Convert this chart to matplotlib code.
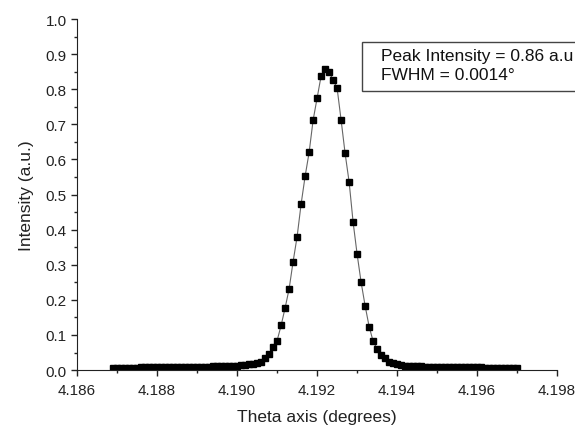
import matplotlib
matplotlib.use("Agg")
import matplotlib.pyplot as plt
from matplotlib.patches import Rectangle
from matplotlib.ticker import MultipleLocator, FormatStrFormatter

plt.rcParams['font.family'] = ['Liberation Sans', 'DejaVu Sans']

# Theta (degrees) and normalised intensity
theta = [4.1869, 4.1870, 4.1871, 4.1872, 4.1873, 4.1874, 4.1875, 4.1876, 4.1877, 4.1878,
         4.1879, 4.1880, 4.1881, 4.1882, 4.1883, 4.1884, 4.1885, 4.1886, 4.1887, 4.1888,
         4.1889, 4.1890, 4.1891, 4.1892, 4.1893, 4.1894, 4.1895, 4.1896, 4.1897, 4.1898,
         4.1899, 4.1900, 4.1901, 4.1902, 4.1903, 4.1904, 4.1905, 4.1906, 4.1907, 4.1908,
         4.1909, 4.1910, 4.1911, 4.1912, 4.1913, 4.1914, 4.1915, 4.1916, 4.1917, 4.1918,
         4.1919, 4.1920, 4.1921, 4.1922, 4.1923, 4.1924, 4.1925, 4.1926, 4.1927, 4.1928,
         4.1929, 4.1930, 4.1931, 4.1932, 4.1933, 4.1934, 4.1935, 4.1936, 4.1937, 4.1938,
         4.1939, 4.1940, 4.1941, 4.1942, 4.1943, 4.1944, 4.1945, 4.1946, 4.1947, 4.1948,
         4.1949, 4.1950, 4.1951, 4.1952, 4.1953, 4.1954, 4.1955, 4.1956, 4.1957, 4.1958,
         4.1959, 4.1960, 4.1961, 4.1962, 4.1963, 4.1964, 4.1965, 4.1966, 4.1967, 4.1968,
         4.1969, 4.1970]
intensidad = [0.007, 0.007, 0.007, 0.007, 0.007, 0.007, 0.007, 0.008, 0.008, 0.008,
              0.008, 0.008, 0.008, 0.008, 0.008, 0.009, 0.009, 0.009, 0.009, 0.009,
              0.009, 0.010, 0.010, 0.010, 0.010, 0.011, 0.011, 0.011, 0.012, 0.012,
              0.013, 0.013, 0.014, 0.015, 0.016, 0.018, 0.020, 0.024, 0.033, 0.046,
              0.065, 0.084, 0.127, 0.177, 0.231, 0.309, 0.380, 0.473, 0.552, 0.620,
              0.712, 0.775, 0.838, 0.858, 0.848, 0.827, 0.803, 0.712, 0.617, 0.536,
              0.421, 0.330, 0.250, 0.183, 0.124, 0.082, 0.060, 0.044, 0.033, 0.024,
              0.019, 0.016, 0.014, 0.013, 0.012, 0.012, 0.011, 0.011, 0.010, 0.010,
              0.010, 0.009, 0.009, 0.009, 0.009, 0.009, 0.008, 0.008, 0.008, 0.008,
              0.008, 0.008, 0.008, 0.007, 0.007, 0.007, 0.007, 0.007, 0.007, 0.007,
              0.007, 0.007]

anotaciones = ["Peak Intensity = 0.86 a.u.", "FWHM = 0.0014°"]

fig = plt.figure(figsize=(5.75, 4.27), dpi=100)
ax = fig.add_axes([0.134, 0.131, 0.835, 0.822])

ax.plot(theta, intensidad, color='#666666', linewidth=0.8, marker='s',
        markersize=4.8, markerfacecolor='black', markeredgecolor='black')

ax.set_xlim(4.186, 4.198)
ax.set_ylim(0.0, 1.0)
ax.xaxis.set_major_locator(MultipleLocator(0.002))
ax.xaxis.set_minor_locator(MultipleLocator(0.001))
ax.yaxis.set_major_locator(MultipleLocator(0.1))
ax.yaxis.set_minor_locator(MultipleLocator(0.05))
ax.xaxis.set_major_formatter(FormatStrFormatter('%.3f'))
ax.yaxis.set_major_formatter(FormatStrFormatter('%.1f'))
ax.tick_params(which='major', direction='out', length=4, width=1, labelsize=11,
               color='#222222', labelcolor='#222222')
ax.tick_params(axis='x', which='major', pad=5)
ax.tick_params(which='minor', direction='out', length=2.5, width=1, color='#222222')
ax.spines['top'].set_visible(False)
ax.spines['right'].set_visible(False)
ax.spines['left'].set_color('#222222')
ax.spines['bottom'].set_color('#222222')

ax.set_xlabel("Theta axis (degrees)", fontsize=12.5, color='#222222', labelpad=9)
ax.set_ylabel("Intensity (a.u.)", fontsize=12.5, color='#222222', labelpad=8)

# caja de anotacion, cortada por el borde derecho
caja = Rectangle((362 / 575, 1 - 92 / 427), 0.5, 49 / 427, transform=fig.transFigure,
                 facecolor='white', edgecolor='#444444', linewidth=1.0, clip_on=False)
fig.patches.append(caja)
fig.text(381 / 575, 1 - 57 / 427, anotaciones[0], fontsize=12.5, va='center', color='#111111')
fig.text(381 / 575, 1 - 76 / 427, anotaciones[1], fontsize=12.5, va='center', color='#111111')

fig.savefig("out.png", dpi=100)
